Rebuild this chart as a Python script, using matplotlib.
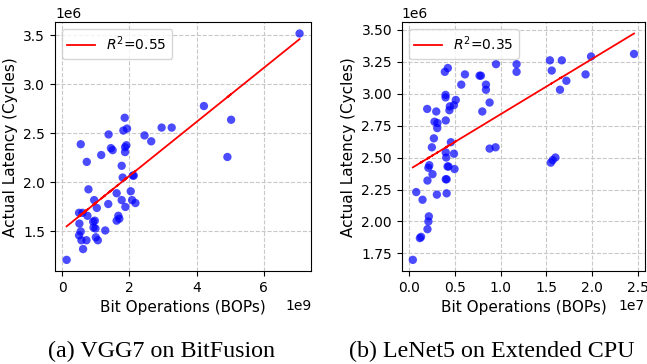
import numpy as np
import matplotlib.pyplot as plt

# (a) VGG7 on BitFusion -- BOPs in 1e9, latency in 1e6 cycles
vgg_bops = [0.13, 0.55, 0.73, 0.78, 0.50, 0.60, 0.75, 0.51, 0.55, 0.50, 0.57, 0.72, 0.62,
            0.95, 1.03, 0.92, 0.97, 0.93, 0.99, 1.00, 1.06, 1.28, 1.16, 1.38, 1.45, 1.50,
            1.37, 1.62, 1.67, 1.62, 1.70, 1.77, 1.77, 1.80, 1.86, 1.82, 1.93, 1.87, 1.87,
            1.91, 1.88, 2.04, 2.08, 2.18, 2.10, 2.13, 2.45, 2.65, 2.96, 3.26, 4.22, 5.03,
            4.92, 7.07]
vgg_lat = [1.21, 2.39, 2.21, 1.93, 1.69, 1.69, 1.66, 1.58, 1.50, 1.46, 1.41, 1.41, 1.32,
           1.82, 1.74, 1.60, 1.61, 1.54, 1.53, 1.44, 1.41, 1.51, 2.28, 2.49, 2.35, 2.33,
           1.78, 1.89, 1.66, 1.61, 1.63, 1.82, 2.17, 2.05, 2.66, 2.53, 2.55, 2.36, 2.31,
           2.38, 1.75, 1.91, 1.82, 1.79, 2.07, 2.07, 2.48, 2.42, 2.56, 2.56, 2.78, 2.64,
           2.26, 3.52]

# (b) LeNet5 on Extended CPU -- BOPs in 1e7, latency in 1e6 cycles
lenet_bops = [0.04, 0.077, 0.146, 0.117, 0.13, 0.20, 0.21, 0.215, 0.20, 0.21, 0.22, 0.197,
              0.255, 0.248, 0.27, 0.277, 0.296, 0.307, 0.31, 0.303, 0.39, 0.423, 0.398,
              0.398, 0.40, 0.40, 0.405, 0.40, 0.41, 0.41, 0.42, 0.43, 0.445, 0.44, 0.456,
              0.49, 0.51, 0.49, 0.496, 0.57, 0.61, 0.77, 0.785, 0.80, 0.84, 0.84, 0.88,
              0.88, 0.945, 0.95, 1.175, 1.175, 1.54, 1.56, 1.55, 1.57, 1.60, 1.67, 1.65,
              1.72, 1.93, 1.99, 2.46]
lenet_lat = [1.70, 2.23, 2.17, 1.87, 1.88, 1.94, 2.00, 2.04, 2.32, 2.42, 2.44, 2.88,
             2.37, 2.58, 2.65, 2.78, 2.86, 2.73, 2.77, 2.21, 3.17, 3.20, 2.99, 2.97,
             2.79, 2.54, 2.50, 2.33, 2.33, 2.22, 2.43, 2.43, 2.90, 2.87, 2.62, 2.91,
             2.95, 2.53, 2.41, 3.07, 3.15, 3.14, 3.14, 2.86, 3.07, 3.03, 2.93, 2.57,
             2.58, 3.23, 3.23, 3.17, 3.26, 3.18, 2.46, 2.48, 2.50, 3.26, 3.03, 3.10,
             3.15, 3.29, 3.31]

vgg_xticks = [0, 2, 4, 6]
lenet_xticks = [0.0, 0.5, 1.0, 1.5, 2.0, 2.5]

panels = [
    (vgg_bops, 1e9, vgg_lat, vgg_xticks, "$R^2$=0.55", "(a) VGG7 on BitFusion"),
    (lenet_bops, 1e7, lenet_lat, lenet_xticks, "$R^2$=0.35", "(b) LeNet5 on Extended CPU"),
]

fig = plt.figure(figsize=(6.47, 3.64), dpi=100)
ax_a = fig.add_axes([0.085, 0.255, 0.396, 0.684])
ax_b = fig.add_axes([0.621, 0.255, 0.376, 0.684])
caption_x = [0.250, 0.760]

for ax, (bops, xscale, lat, xt, r2, caption), cx in zip([ax_a, ax_b], panels, caption_x):
    x = np.array(bops) * xscale
    y = np.array(lat) * 1e6
    ax.scatter(x, y, s=36, color="blue", alpha=0.7, edgecolors="none", zorder=2)
    k, b = np.polyfit(x, y, 1)
    ax.plot(x, k * x + b, color="red", lw=1.3, label=r2, zorder=3)
    ax.set_xticks(np.array(xt) * xscale)
    ax.grid(True, linestyle="--", color="#c8c8c8", linewidth=0.8, zorder=0)
    ax.set_axisbelow(True)
    ax.set_xlabel("Bit Operations (BOPs)", fontsize=11)
    ax.set_ylabel("Actual Latency (Cycles)", fontsize=11)
    ax.tick_params(labelsize=10)
    ax.legend(loc="upper left", fontsize=10)
    fig.text(cx, 0.018, caption, ha="center", va="baseline", fontsize=17.3,
             family="Liberation Serif")

plt.savefig("out.png", dpi=100)
